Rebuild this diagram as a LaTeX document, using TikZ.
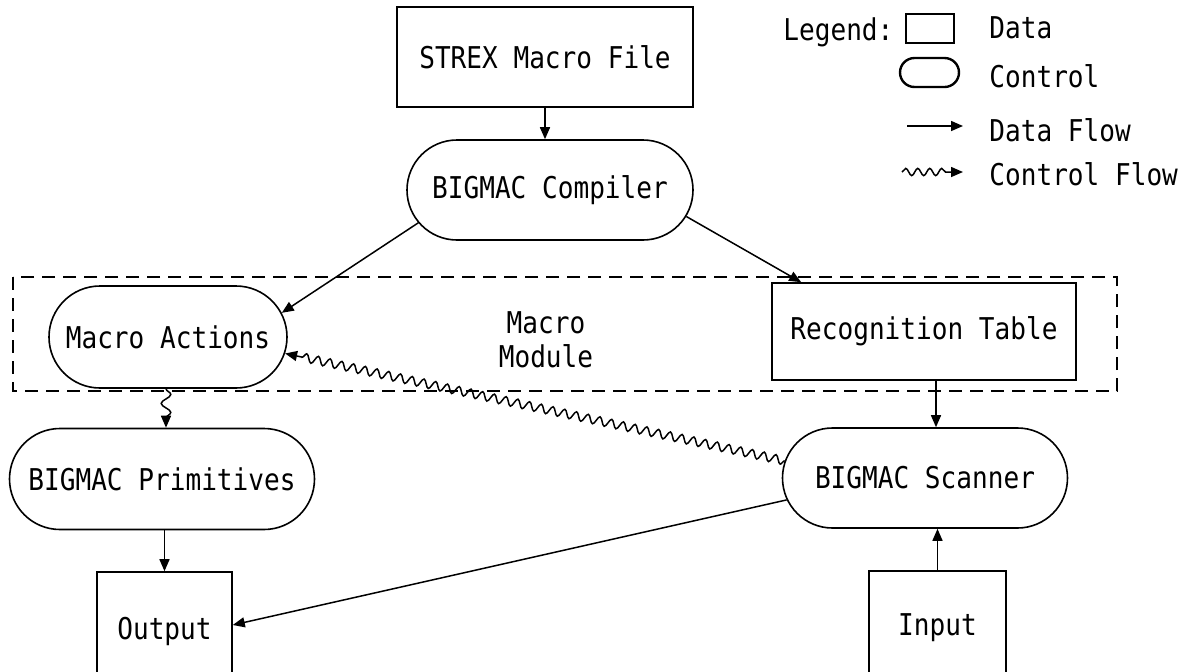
\documentclass[tikz,border=0pt]{standalone}
\usepackage{fontspec}
\newfontfamily\monofont[FakeStretch=0.87]{DejaVu Sans Mono}
\usetikzlibrary{arrows.meta,shapes.misc,decorations.pathmorphing}
\tikzset{
  every node/.style={font=\monofont\fontsize{15pt}{17pt}\selectfont, inner sep=0pt},
  databox/.style={draw, line width=0.8pt, rectangle},
  ctrlbox/.style={draw, line width=0.8pt, rounded rectangle},
  dflow/.style={line width=0.75pt, -{Triangle[length=6pt,width=5pt]}},
  cflow/.style={line width=0.75pt, -{Triangle[length=6pt,width=5pt]}, decorate,
    decoration={snake, amplitude=2.1pt, segment length=6pt, post length=6pt}},
  modbox/.style={draw, line width=0.8pt, dash pattern=on 6.5pt off 4pt},
}
\begin{document}
\begin{tikzpicture}[x=0.5pt,y=-0.5pt]
\useasboundingbox (0,0) rectangle (1196,671);
\clip (0,0) rectangle (1196,671);
\fill[white] (0,0) rectangle (1196,671);

% module outline
\draw[modbox] (13,277) rectangle (1117,391);
\node (mm) at (546,340) [align=center] {Macro\\Module};

% nodes
\node[databox, minimum width=148pt, minimum height=50pt] (strex) at (545,57) {STREX Macro File};
\node[ctrlbox, minimum width=143pt, minimum height=50pt] (comp) at (550,190) {BIGMAC Compiler};
\node[ctrlbox, minimum width=119pt, minimum height=51pt, fill=white] (ma) at (168,337) {Macro Actions};
\node[databox, minimum width=152pt, minimum height=48.5pt, fill=white] (rt) at (924,331.5) {Recognition Table};
\node[ctrlbox, minimum width=152.5pt, minimum height=50.5pt] (prim) at (162,479) {BIGMAC Primitives};
\node[ctrlbox, minimum width=142.5pt, minimum height=50pt] (scan) at (925,478) {BIGMAC Scanner};
\node[databox, minimum width=67.5pt, minimum height=59pt] (out) at (164.5,631) {Output};
\node[databox, minimum width=68.5pt, minimum height=57pt] (in) at (937.5,628) {Input};

% data flows
\draw[dflow] (strex.south) -- (strex.south |- comp.north);
\draw[dflow] (comp.194) -- (ma.12);
\draw[dflow] (comp.-11) -- ([xshift=15pt]rt.north west);
\draw[dflow] ([xshift=6pt]rt.south) -- ([xshift=6pt]rt.south |- scan.north);
\draw[dflow] (in.north) -- (in.north |- scan.south);
\draw[dflow] (scan.189) -- ([yshift=3pt]out.east);
\draw[dflow] (out.north |- prim.south) -- (out.north);

% control flows
\draw[cflow, decoration={snake, amplitude=2.4pt, segment length=9pt, post length=4pt}] ([xshift=-1pt]ma.south) -- ([xshift=-1pt]ma.south |- prim.north);
\draw[cflow] (scan.173.6) -- (ma.-8.6);

% legend
\node[anchor=base west] (lg) at (783,40) {Legend:};
\node[draw, line width=0.9pt, minimum width=24pt, minimum height=14.5pt] (lgd) at (930,28.5) {};
\node[anchor=base west] (lgdt) at (989,38) {Data};
\node[draw, line width=1.2pt, rounded rectangle, minimum width=29.5pt, minimum height=14.5pt] (lgc) at (929.5,72.5) {};
\node[anchor=base west] (lgct) at (989,87) {Control};
\coordinate (dfa) at (907,126);
\coordinate (dfb) at (963,126);
\draw[dflow] (dfa) -- (dfb);
\node[anchor=base west] (lgdf) at (989,141) {Data Flow};
\coordinate (cfa) at (902,172);
\coordinate (cfb) at (963,172);
\draw[cflow, decoration={snake, amplitude=1.8pt, segment length=6pt, post length=6pt}] (cfa) -- (cfb);
\node[anchor=base west] (lgcf) at (989,185) {Control Flow};
\end{tikzpicture}
\end{document}
